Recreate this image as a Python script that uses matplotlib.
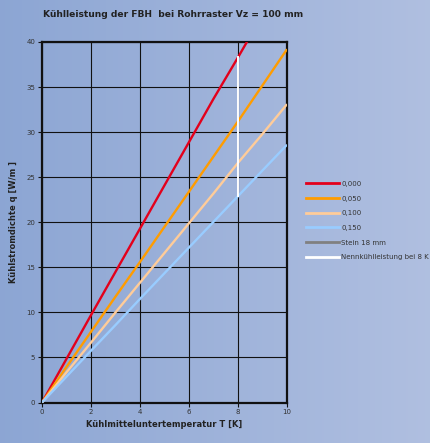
import numpy as np
from matplotlib import pyplot as plt
from matplotlib.lines import Line2D

# Kühlmitteluntertemperatur T [K]
temps = [0, 1, 2, 3, 4, 5, 6, 7, 8, 9, 10]

# Kühlstromdichte q [W/m²] je Wärmeleitwiderstand Bodenbelag
q_000 = [0, 4.85, 9.7, 14.5, 19.3, 24.1, 28.9, 33.7, 38.3, 43.0, 47.8]
q_050 = [0, 3.95, 7.85, 11.75, 15.6, 19.5, 23.4, 27.3, 31.2, 35.2, 39.2]
q_100 = [0, 3.35, 6.65, 10.0, 13.3, 16.6, 19.9, 23.2, 26.6, 29.8, 33.1]
q_150 = [0, 2.88, 5.75, 8.6, 11.5, 14.35, 17.2, 20.05, 22.9, 25.75, 28.6]

series_labels = ['0,000', '0,050', '0,100', '0,150']
series_colors = ['#e3001b', '#ff9c00', '#ffcc99', '#99ccff']

nenn_t = 8
nenn_low = 22.9
nenn_high = 38.3

fig = plt.figure(figsize=(4.30, 4.43), dpi=100)

# background gradient
bg = fig.add_axes([0, 0, 1, 1], zorder=-10)
grad = np.linspace(0, 1, 256)[None, :, None]
left = np.array([0.55, 0.65, 0.83])
right = np.array([0.69, 0.75, 0.88])
bg.imshow(left + (right - left) * grad, aspect='auto', extent=(0, 1, 0, 1))
bg.set_axis_off()

ax = fig.add_axes([0.0977, 0.0914, 0.5698, 0.8138])
ax.set_facecolor('none')

for q, lab, col in zip([q_000, q_050, q_100, q_150], series_labels, series_colors):
    ax.plot(temps, q, color=col, linewidth=1.7, solid_capstyle='butt', zorder=3)

ax.plot([nenn_t, nenn_t], [nenn_low, nenn_high], color='white', linewidth=1.4, zorder=4)

ax.set_xlim(0, 10)
ax.set_ylim(0, 40)
ax.set_xticks(range(0, 11, 2))
ax.set_yticks(range(0, 41, 5))
ax.grid(True, color='#111111', linewidth=0.8)
ax.set_axisbelow(True)
for sp in ax.spines.values():
    sp.set_linewidth(1.6)
    sp.set_color('#111111')
ax.tick_params(direction='out', length=3, width=0.8, labelsize=5, colors='#111111',
               labelcolor='#333333', pad=2)

ax.set_xlabel('Kühlmitteluntertemperatur T [K]', fontsize=6, fontweight='bold', color='#222222', labelpad=3)
ax.set_ylabel('Kühlstromdichte q [W/m ]', fontsize=6, fontweight='bold', color='#222222', labelpad=6)

fig.text(0.403, 0.968, 'Kühlleistung der FBH  bei Rohrraster Vz = 100 mm', ha='center', va='center',
         fontsize=6.6, fontweight='bold', color='#222222')

handles = [Line2D([], [], color=c, linewidth=2) for c in series_colors]
handles.append(Line2D([], [], color='#808080', linewidth=2))
handles.append(Line2D([], [], color='white', linewidth=2))
labels = series_labels + ['Stein 18 mm', 'Nennkühlleistung bei 8 K']
fig.legend(handles, labels, loc='upper left', bbox_to_anchor=(0.705, 0.598), frameon=False,
           fontsize=5, handlelength=4.8, handletextpad=0.3, labelspacing=1.25, borderaxespad=0,
           labelcolor='#333333')

fig.savefig('out.png', dpi=100)
